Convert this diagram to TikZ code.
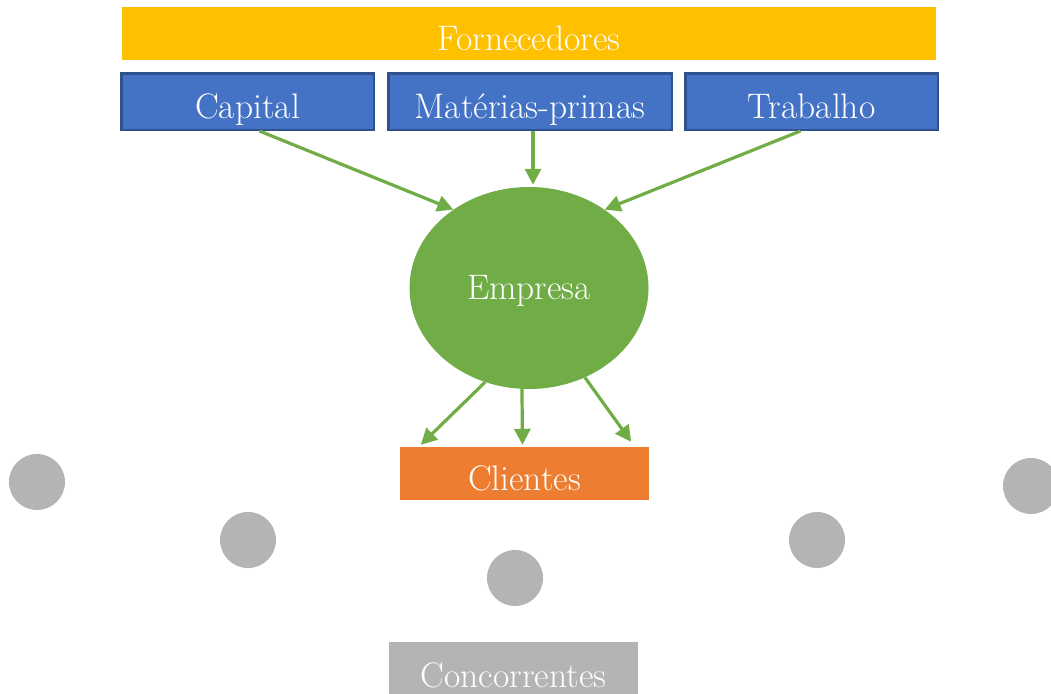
\documentclass[tikz,border=0pt]{standalone}
\usetikzlibrary{arrows.meta,shapes.geometric}
\definecolor{amarelo}{HTML}{FFC000}
\definecolor{azul}{HTML}{4472C4}
\definecolor{azulborda}{HTML}{2F528F}
\definecolor{verde}{HTML}{70AD47}
\definecolor{laranja}{HTML}{ED7D31}
\definecolor{cinza}{HTML}{B4B4B4}
\begin{document}
\begin{tikzpicture}[x=1pt,y=-1pt]
% Styles
\tikzstyle{caixa}=[rectangle, inner sep=0pt, text=white, font=\fontsize{35.5}{38}\selectfont, text height=33pt, text depth=0pt]
\tikzstyle{insumo}=[caixa, fill=azul, draw=azulborda, line width=2.5pt, minimum height=56.5pt]
\tikzstyle{seta}=[draw=verde, line width=3.2pt, -{Triangle[length=16pt,width=16pt]}]
\tikzstyle{concorrente}=[circle, fill=cinza, minimum size=56pt, inner sep=0pt]

\clip (0,0) rectangle (1051,693);

% fornecedores
\node[caixa, fill=amarelo, minimum width=814pt, minimum height=53pt, text height=35pt] (fornecedores) at (529,33.5) {Fornecedores};
\node[insumo, minimum width=252.5pt] (capital) at (247.5,101.5) {Capital};
\node[insumo, minimum width=283.5pt] (materias) at (530,101.5) {Matérias-primas};
\node[insumo, minimum width=252.5pt] (trabalho) at (811.5,101.5) {Trabalho};

% empresa
\node[ellipse, fill=verde, minimum width=239pt, minimum height=202pt, inner sep=0pt, text=white, font=\fontsize{35.5}{38}\selectfont, text height=22pt, text depth=0pt] (empresa) at (529,288) {Empresa};

% clientes
\node[caixa, fill=laranja, minimum width=249pt, minimum height=53pt] (clientes) at (524.5,473.5) {Clientes};

% concorrentes
\foreach \x/\y [count=\i] in {37/482, 248/540, 515/578, 817/540, 1031/486} {
\node[concorrente] (c\i) at (\x,\y) {};
}
\node[caixa, fill=cinza, minimum width=249pt, minimum height=70pt, text height=20pt] (concorrentes) at (513.5,677) {Concorrentes};

% setas de entrada
\draw[seta] ([xshift=12pt]capital.south) -- (empresa.134);
\draw[seta] ([xshift=3pt]materias.south) -- ([xshift=4pt,yshift=2pt]empresa.north);
\draw[seta] ([xshift=-11pt]trabalho.south) -- (empresa.46);

% setas de saida
\draw[seta] (empresa.245) -- ([xshift=21pt,yshift=2pt]clientes.north west);
\draw[seta] (empresa.266) -- ([xshift=-2pt,yshift=2pt]clientes.north);
\draw[seta] (empresa.302) -- ([xshift=-18pt,yshift=5pt]clientes.north east);

\end{tikzpicture}
\end{document}
